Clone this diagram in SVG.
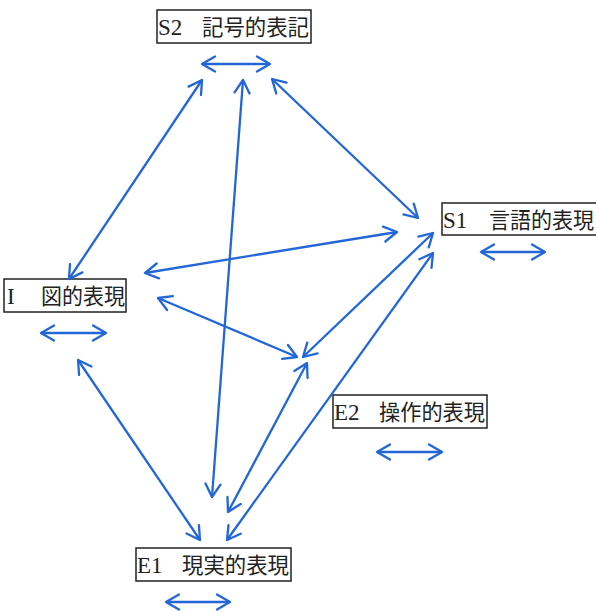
<svg xmlns="http://www.w3.org/2000/svg" width="596" height="612" viewBox="0 0 596 612">
<style>
.box{fill:#fff;stroke:#222;stroke-width:1.5}
.lat{font-family:"Liberation Serif",serif;font-size:23px;fill:#222}
.cjk{font-family:"Noto Sans CJK JP","Noto Sans CJK SC",sans-serif;font-size:21.5px;fill:#222}
.ln{stroke:#2266d8;stroke-width:2.3;fill:none;marker-start:url(#ah);marker-end:url(#ah)}
</style>
<defs>
<marker id="ah" viewBox="-16 -9 18 18" markerWidth="18" markerHeight="18" refX="0" refY="0" orient="auto-start-reverse" markerUnits="userSpaceOnUse">
<path d="M-13,-7.5 L0,0 L-13,7.5" fill="none" stroke="#2266d8" stroke-width="2.3" stroke-linecap="round" stroke-linejoin="round"/>
</marker>
</defs>
<rect width="596" height="612" fill="#fff"/>
<g id="S2">
<rect class="box" x="157" y="10" width="154" height="33"/>
<text class="lat" x="158" y="35">S2</text>
<text class="cjk" x="202" y="35" textLength="107" lengthAdjust="spacingAndGlyphs">記号的表記</text>
<line class="ln" x1="202" y1="64" x2="270" y2="64"/>
</g>
<g id="S1">
<rect class="box" x="442" y="203" width="156" height="32"/>
<text class="lat" x="443" y="228">S1</text>
<text class="cjk" x="489" y="228" textLength="105" lengthAdjust="spacingAndGlyphs">言語的表現</text>
<line class="ln" x1="481" y1="252" x2="545" y2="252"/>
</g>
<g id="I">
<rect class="box" x="4" y="279" width="122" height="33"/>
<text class="lat" x="7" y="304">I</text>
<text class="cjk" x="41" y="304" textLength="84" lengthAdjust="spacingAndGlyphs">図的表現</text>
<line class="ln" x1="41" y1="333" x2="106" y2="333"/>
</g>
<g id="E2">
<rect class="box" x="333" y="395" width="154" height="33"/>
<text class="lat" x="334" y="420">E2</text>
<text class="cjk" x="379" y="420" textLength="106" lengthAdjust="spacingAndGlyphs">操作的表現</text>
<line class="ln" x1="377" y1="452" x2="442" y2="452"/>
</g>
<g id="E1">
<rect class="box" x="136" y="548" width="155" height="33"/>
<text class="lat" x="137" y="573">E1</text>
<text class="cjk" x="182" y="573" textLength="107" lengthAdjust="spacingAndGlyphs">現実的表現</text>
<line class="ln" x1="166" y1="602" x2="230" y2="602"/>
</g>
<g id="connectors">
<line class="ln" x1="202" y1="80" x2="69" y2="279"/>
<line class="ln" x1="243" y1="80" x2="212" y2="497"/>
<line class="ln" x1="272" y1="79" x2="418" y2="218"/>
<line class="ln" x1="145" y1="273" x2="397" y2="232"/>
<line class="ln" x1="158" y1="298" x2="297" y2="357"/>
<line class="ln" x1="433" y1="233" x2="303" y2="357"/>
<line class="ln" x1="78" y1="360" x2="200" y2="540"/>
<line class="ln" x1="307" y1="363" x2="228" y2="512"/>
<line class="ln" x1="433" y1="253" x2="227" y2="540"/>
</g>
</svg>
